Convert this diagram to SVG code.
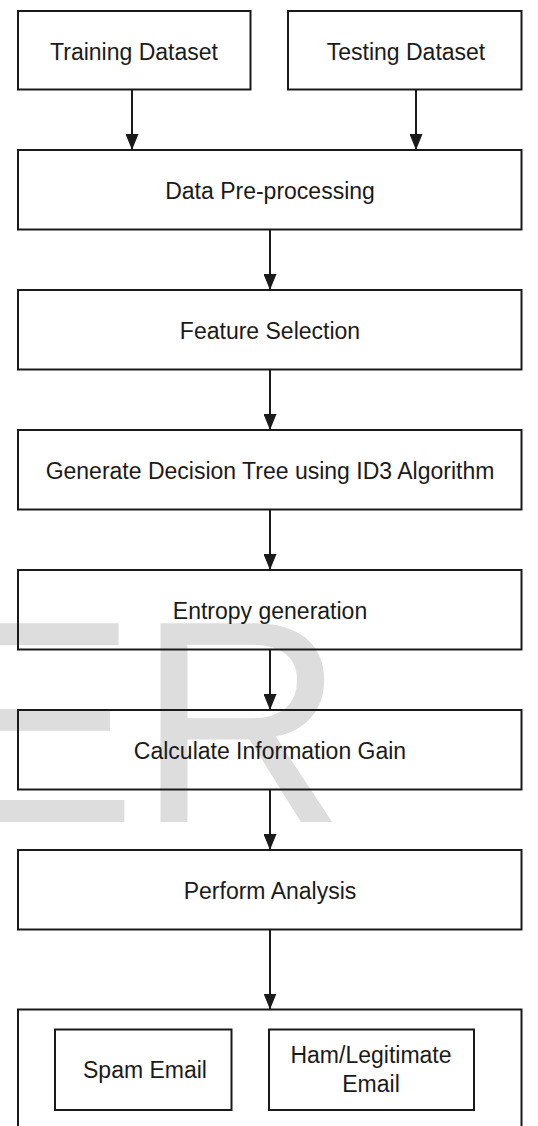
<svg xmlns="http://www.w3.org/2000/svg" width="538" height="1126" viewBox="0 0 538 1126">
<style>
.box{fill:none;stroke:#1a1a1a;stroke-width:2}
.lbl{font-family:"Liberation Sans",Arial,sans-serif;font-size:23px;fill:#1a1a1a;text-anchor:middle}
.wm{font-family:"Liberation Sans",Arial,sans-serif;font-size:289px;fill:#dddddd}
.conn{stroke:#1a1a1a;stroke-width:2;fill:none;marker-end:url(#arr)}
</style>
<defs>
<marker id="arr" viewBox="0 0 16 13" refX="16" refY="6.5" markerWidth="16" markerHeight="13" markerUnits="userSpaceOnUse" orient="auto">
<path d="M0,0 L16,6.5 L0,13 z" fill="#1a1a1a"/>
</marker>
</defs>
<rect width="538" height="1126" fill="#ffffff"/>
<text class="wm" x="-56" y="822">ER</text>
<g id="connectors">
<path class="conn" d="M132,89.5 L132,150"/>
<path class="conn" d="M416,89.5 L416,150"/>
<path class="conn" d="M270,229.5 L270,290"/>
<path class="conn" d="M270,369.5 L270,430"/>
<path class="conn" d="M270,509.5 L270,570"/>
<path class="conn" d="M270,649.5 L270,710"/>
<path class="conn" d="M270,789.5 L270,850"/>
<path class="conn" d="M270,929.5 L270,1009.5"/>
</g>
<g id="training">
<rect class="box" x="18" y="11" width="232.5" height="78.5"/>
<text class="lbl" x="134" y="60">Training Dataset</text>
</g>
<g id="testing">
<rect class="box" x="288" y="11" width="233.5" height="78.5"/>
<text class="lbl" x="406" y="60">Testing Dataset</text>
</g>
<g id="preprocessing">
<rect class="box" x="18" y="150" width="503.5" height="79.5"/>
<text class="lbl" x="270" y="198.5">Data Pre-processing</text>
</g>
<g id="feature">
<rect class="box" x="18" y="290" width="503.5" height="79.5"/>
<text class="lbl" x="270" y="339">Feature Selection</text>
</g>
<g id="decisiontree">
<rect class="box" x="18" y="430" width="503.5" height="79.5"/>
<text class="lbl" x="270" y="478.5">Generate Decision Tree using ID3 Algorithm</text>
</g>
<g id="entropy">
<rect class="box" x="18" y="570" width="503.5" height="79.5"/>
<text class="lbl" x="270" y="619">Entropy generation</text>
</g>
<g id="infogain">
<rect class="box" x="18" y="710" width="503.5" height="79.5"/>
<text class="lbl" x="270" y="759">Calculate Information Gain</text>
</g>
<g id="analysis">
<rect class="box" x="18" y="850" width="503.5" height="79.5"/>
<text class="lbl" x="270" y="898.5">Perform Analysis</text>
</g>
<g id="result">
<rect class="box" x="18" y="1009.5" width="503.5" height="200"/>
</g>
<g id="spam">
<rect class="box" x="55" y="1029.5" width="176.5" height="80.5"/>
<text class="lbl" x="145" y="1078">Spam Email</text>
</g>
<g id="ham">
<rect class="box" x="269" y="1029.5" width="205" height="80.5"/>
<text class="lbl" x="371" y="1063">Ham/Legitimate</text>
<text class="lbl" x="371" y="1092">Email</text>
</g>
</svg>
